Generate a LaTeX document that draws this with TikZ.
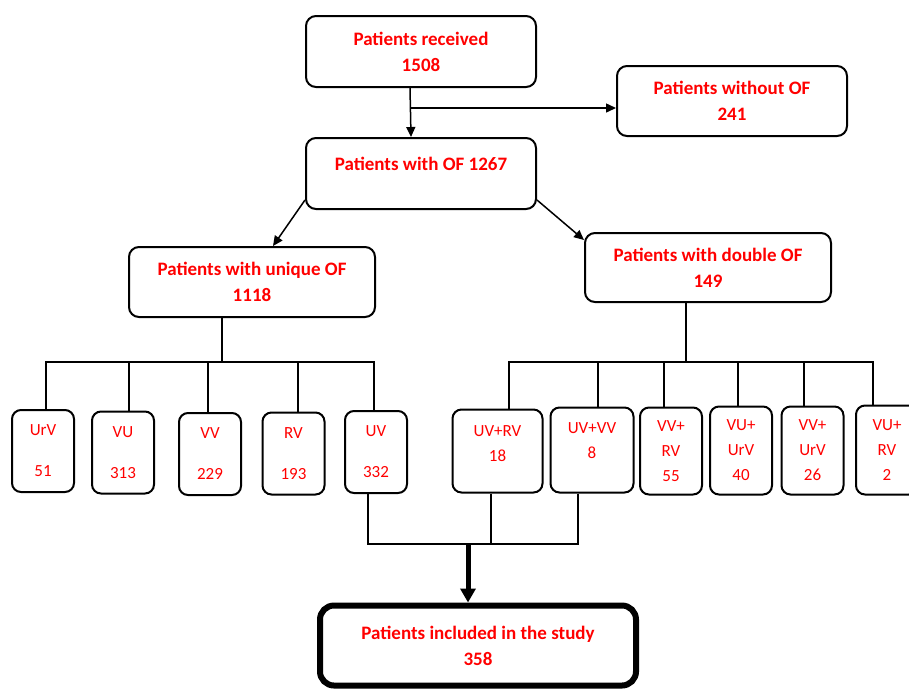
\documentclass[tikz,border=0pt]{standalone}
\usepackage{fontspec}
\setmainfont{Carlito}
\usepackage{tikz}
\usetikzlibrary{arrows.meta, positioning, calc}
\definecolor{cText}{RGB}{255,0,0}
\tikzset{
	bigbox/.style  ={rectangle, rounded corners=10pt, draw=black, line width=2pt, minimum width=230pt, minimum height=71pt, align=center, text=cText, font=\fontsize{19}{26}\selectfont\bfseries, inner sep=2pt},
	smallbox/.style={rectangle, rounded corners=9pt, draw=black, line width=2pt, minimum width=62pt, minimum height=82pt, align=center, text=cText, font=\fontsize{17}{25}\selectfont, inner sep=2pt},
	flowarrow/.style={-{Triangle[length=10pt,width=9pt]}, line width=1.5pt},
	link/.style    ={line width=1.3pt},
}
\begin{document}
\begin{tikzpicture}[x=1pt, y=-1pt]
	\useasboundingbox (0,0) rectangle (909,689);
	\node[bigbox] (rec) at (421,51.5) {Patients received\\1508};
	\node[bigbox, minimum height=70pt] (without) at (732,101) {Patients without OF\\241};
	\node[bigbox] (withof) at (421,173.5) {Patients with OF 1267\\[-6pt]\mbox{}};
	\node[bigbox, minimum width=246pt, minimum height=70pt] (unique) at (252,282) {Patients with unique OF\\1118};
	\node[bigbox, minimum width=246pt, minimum height=69pt] (double) at (708,267.5) {Patients with double OF\\149};
	\node[bigbox, line width=6pt, rounded corners=14pt, minimum width=316pt, minimum height=80pt] (final) at (478,645.5) {Patients included in the study\\358};
	\draw[flowarrow] ([xshift=-11pt]rec.south) -- ([xshift=-10pt]withof.north);
	\coordinate (split) at (410.5,108);
	\draw[flowarrow] (split) -- (without.west |- split);
	\draw[flowarrow] ([yshift=10pt]withof.south west) -- ([xshift=21pt]unique.north);
	\draw[flowarrow] ([yshift=10pt]withof.south east) -- ([yshift=-8pt]double.north west);
	\node[smallbox] (urv) at (43,451) {UrV\\[16pt]51};
	\node[smallbox] (vu) at (123,452.5) {VU\\[16pt]313};
	\node[smallbox] (vv) at (210,454) {VV\\[16pt]229};
	\node[smallbox] (rv) at (293.5,453.5) {RV\\[16pt]193};
	\node[smallbox] (uv) at (376,452) {UV\\[16pt]332};
	\node[smallbox, minimum width=90pt, minimum height=83pt, text depth=14pt] (uvrv) at (497.5,451) {UV+RV\\18};
	\node[smallbox, minimum width=83pt, minimum height=85pt, text depth=19pt] (uvvv) at (592,450) {UV+VV\\8};
	\node[smallbox, minimum height=87pt] (vvrv) at (671,451) {VV+\\RV\\55};
	\node[smallbox, minimum height=88pt] (vuurv) at (741,450.5) {VU+\\UrV\\40};
	\node[smallbox, minimum height=88pt] (vvurv) at (812.5,450.5) {VV+\\UrV\\26};
	\node[smallbox, minimum height=89pt] (vurv) at (887,450) {VU+\\RV\\2};
	\coordinate (busL) at (222,362);
	\coordinate (busR) at (686,362);
	\draw[link] ([xshift=-30pt]unique.south) -- (busL);
	\foreach \n/\s in {urv/3, vu/6, vv/-2, rv/4.5, uv/-2}
		\draw[link] ([xshift=\s pt]\n.north) |- (busL);
	\draw[link] ([xshift=-22pt]double.south) -- (busR);
	\foreach \n/\s in {uvrv/11.5, uvvv/6, vvrv/-7, vuurv/-3, vvurv/-8.5, vurv/-14}
		\draw[link] ([xshift=\s pt]\n.north) |- (busR);
	\coordinate (merge) at (468,544);
	\foreach \n/\s in {uv/-8, uvrv/-6.5, uvvv/-14}
		\draw[link] ([xshift=\s pt]\n.south) |- (merge);
	\draw[line width=5pt, -{Triangle[length=14pt,width=15pt]}] (merge) -- (final.north -| merge);
\end{tikzpicture}
\end{document}
